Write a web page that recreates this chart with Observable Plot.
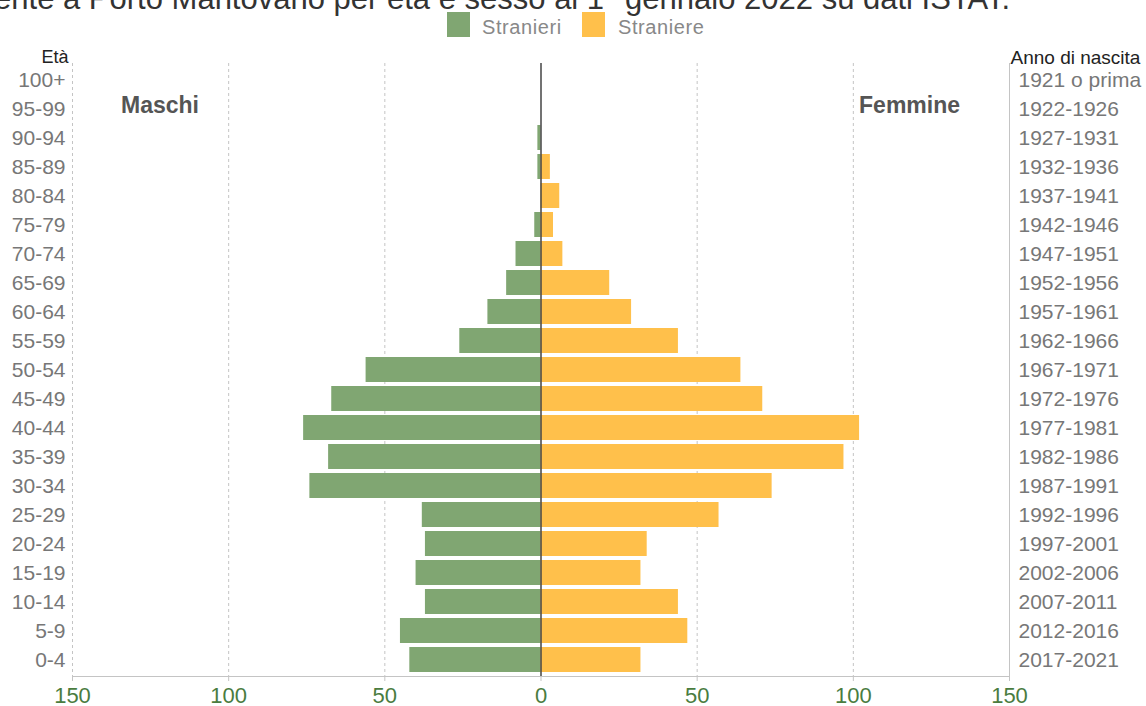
<!DOCTYPE html>
<html>
<head>
<meta charset="utf-8">
<script src="https://cdn.jsdelivr.net/npm/d3@7"></script>
<script src="https://cdn.jsdelivr.net/npm/@observablehq/plot@0.6"></script>
<style>
  html, body { margin: 0; padding: 0; background: #fff; }
  body { width: 1146px; height: 706px; overflow: hidden; position: relative; font-family: "Liberation Sans", Arial, sans-serif; }
  #title { position: absolute; right: 136px; top: -17px; font-size: 31px; line-height: 1; white-space: nowrap; color: #333; }
  .sw { position: absolute; top: 12px; width: 23px; height: 25px; }
  .lg { position: absolute; top: 17px; font-size: 20px; line-height: 20px; letter-spacing: 0.6px; color: #888; white-space: nowrap; }
  #chart { position: absolute; left: 0; top: 0; }
</style>
</head>
<body>
<div id="title">Popolazione straniera residente a Porto Mantovano per età e sesso al 1° gennaio 2022 su dati ISTAT.</div>
<div class="sw" style="left:447px;background:#80a672"></div>
<div class="lg" style="left:482px">Stranieri</div>
<div class="sw" style="left:582px;background:#ffc04b"></div>
<div class="lg" style="left:618px">Straniere</div>
<div id="chart"></div>
<script>
const ages = ["100+","95-99","90-94","85-89","80-84","75-79","70-74","65-69","60-64","55-59","50-54","45-49","40-44","35-39","30-34","25-29","20-24","15-19","10-14","5-9","0-4"];
const years = ["1921 o prima","1922-1926","1927-1931","1932-1936","1937-1941","1942-1946","1947-1951","1952-1956","1957-1961","1962-1966","1967-1971","1972-1976","1977-1981","1982-1986","1987-1991","1992-1996","1997-2001","2002-2006","2007-2011","2012-2016","2017-2021"];
const males = [0,0,1,1,0,2,8,11,17,26,56,67,76,68,74,38,37,40,37,45,42];
const females = [0,0,0,3,6,4,7,22,29,44,64,71,102,97,74,57,34,32,44,47,32];
const xTicks = [-150,-100,-50,0,50,100,150];
const dashedGrid = [-150,-100,-50,50,100];
const sideLabels = [
  {text: "Maschi", x: -122, age: "95-99"},
  {text: "Femmine", x: 118, age: "95-99"}
];

const rows = ages.map((a, i) => ({age: a, year: years[i], m: males[i], f: females[i]}));

const plot = Plot.plot({
  width: 1146,
  height: 706,
  marginTop: 63,
  marginBottom: 30,
  marginLeft: 72,
  marginRight: 137,
  style: {fontFamily: "'Liberation Sans', Arial, sans-serif", background: "transparent"},
  x: {domain: [-150, 150], axis: null, label: null},
  y: {domain: ages, padding: 0, axis: null, label: null},
  marks: [
    Plot.ruleX(dashedGrid, {stroke: "#c4c4c4", strokeDasharray: "3,3"}),
    Plot.ruleX([150], {stroke: "#c4c4c4"}),
    Plot.frame({anchor: "bottom", stroke: "#c4c4c4"}),
    Plot.barX(rows, {y: "age", x: d => -d.m, fill: "#80a672", insetTop: 2, insetBottom: 2}),
    Plot.barX(rows, {y: "age", x: "f", fill: "#ffc04b", insetTop: 2, insetBottom: 2}),
    Plot.ruleX([0], {stroke: "#444", strokeWidth: 1.5}),
    Plot.axisX({ticks: xTicks, tickSize: 5, tickPadding: 6, tickFormat: d => Math.abs(d), fontSize: 22, stroke: "#c4c4c4", fill: "#4a7c3f", label: null}),
    Plot.axisY({anchor: "left", tickSize: 0, tickPadding: 7, fontSize: 21, fill: "#777", label: null}),
    Plot.axisY({anchor: "right", tickSize: 0, tickPadding: 9, fontSize: 21, fill: "#777", label: null, tickFormat: d => years[ages.indexOf(d)]}),
    Plot.text(sideLabels, {x: "x", y: "age", text: "text", fontSize: 23, fontWeight: "bold", fill: "#555", dy: -3}),
    Plot.text(["Età"], {frameAnchor: "top-left", text: d => d, dx: -31, dy: -13, fontSize: 18, fill: "#222"}),
    Plot.text(["Anno di nascita"], {frameAnchor: "top-right", text: d => d, textAnchor: "start", dx: 1, dy: -13, fontSize: 19, fill: "#222"})
  ]
});
document.getElementById("chart").appendChild(plot);
</script>
</body>
</html>
